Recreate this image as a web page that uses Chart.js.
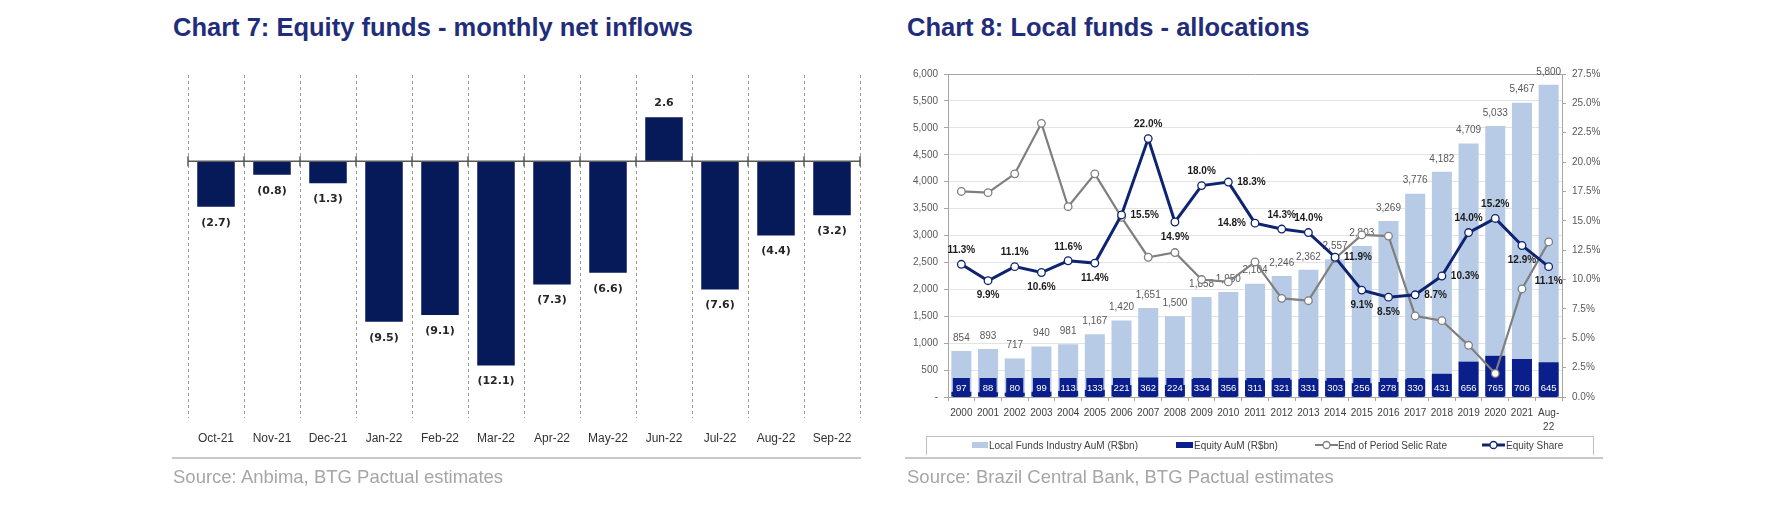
<!DOCTYPE html>
<html>
<head>
<meta charset="utf-8">
<script src="https://cdn.jsdelivr.net/npm/chart.js@4.4.0/dist/chart.umd.min.js"></script>
<style>
  body { margin: 0; width: 1766px; height: 530px; background: #fff; position: relative; overflow: hidden;
         font-family: "Liberation Sans", Arial, sans-serif; }
  .title { position: absolute; top: 12px; font-size: 25.5px; line-height: 30px; font-weight: bold; color: #1f2d7b; white-space: nowrap; }
  .source { position: absolute; top: 466px; font-size: 18.5px; line-height: 22px; color: #a6a6a6; white-space: nowrap; }
  .rule { position: absolute; top: 457px; height: 2px; background: #c8c8c8; }
  canvas { position: absolute; }
  #legend8 { position: absolute; left: 926px; top: 436px; width: 666px; height: 18px; border: 1px solid #bfbfbf; border-bottom: none; }
  .lg { position: absolute; top: 445px; transform: translateY(-50%); font-size: 10px; color: #404040; white-space: nowrap; }
  .sw { position: absolute; top: 442px; height: 6px; }
</style>
</head>
<body>
<div class="title" style="left:173px">Chart 7: Equity funds - monthly net inflows</div>
<div class="title" style="left:907px">Chart 8: Local funds - allocations</div>

<canvas id="chart7" width="730" height="420" style="left:150px;top:50px"></canvas>
<canvas id="chart8" width="886" height="420" style="left:880px;top:50px"></canvas>

<div id="legend8"></div>
<div class="sw" style="left:972px;width:16px;background:#b7cbe6"></div>
<div class="lg" style="left:989px">Local Funds Industry AuM (R$bn)</div>
<div class="sw" style="left:1176px;width:17px;background:#0b1f8c"></div>
<div class="lg" style="left:1194px">Equity AuM (R$bn)</div>
<svg style="position:absolute;left:1315px;top:440px" width="23" height="10">
  <line x1="0" y1="5" x2="23" y2="5" stroke="#7f7f7f" stroke-width="2"/>
  <circle cx="11.5" cy="5" r="3.5" fill="#fff" stroke="#7f7f7f" stroke-width="1.3"/>
</svg>
<div class="lg" style="left:1338px">End of Period Selic Rate</div>
<svg style="position:absolute;left:1482px;top:440px" width="23" height="10">
  <line x1="0" y1="5" x2="23" y2="5" stroke="#0e2470" stroke-width="3"/>
  <circle cx="11.5" cy="5" r="3.5" fill="#fff" stroke="#0e2470" stroke-width="1.3"/>
</svg>
<div class="lg" style="left:1506px">Equity Share</div>

<div class="rule" style="left:172px;width:689px"></div>
<div class="rule" style="left:905px;width:698px"></div>
<div class="source" style="left:173px">Source: Anbima, BTG Pactual estimates</div>
<div class="source" style="left:907px">Source: Brazil Central Bank, BTG Pactual estimates</div>

<script>
const FONT = '"Liberation Sans", Arial, sans-serif';

// Chart 7 data
const months = ['Oct-21', 'Nov-21', 'Dec-21', 'Jan-22', 'Feb-22', 'Mar-22',
                'Apr-22', 'May-22', 'Jun-22', 'Jul-22', 'Aug-22', 'Sep-22'];
const netInflows = [-2.7, -0.8, -1.3, -9.5, -9.1, -12.1, -7.3, -6.6, 2.6, -7.6, -4.4, -3.2];

// Chart 8 data
const years = ['2000', '2001', '2002', '2003', '2004', '2005', '2006', '2007', '2008', '2009', '2010',
               '2011', '2012', '2013', '2014', '2015', '2016', '2017', '2018', '2019', '2020', '2021', ['Aug-', '22']];
const localAum = [854, 893, 717, 940, 981, 1167, 1420, 1651, 1500, 1858, 1950, 2104,
                  2246, 2362, 2557, 2803, 3269, 3776, 4182, 4709, 5033, 5467, 5800];
const equityAum = [97, 88, 80, 99, 113, 133, 221, 362, 224, 334, 356, 311,
                   321, 331, 303, 256, 278, 330, 431, 656, 765, 706, 645];
const selicRate = [17.5, 17.4, 19.0, 23.3, 16.2, 19.0, 15.3, 11.9, 12.3, 10.0, 9.8, 11.5,
                   8.4, 8.2, 11.8, 13.8, 13.7, 6.9, 6.5, 4.4, 2.0, 9.2, 13.2];
const equityShare = [11.3, 9.9, 11.1, 10.6, 11.6, 11.4, 15.5, 22.0, 14.9, 18.0, 18.3, 14.8,
                     14.3, 14.0, 11.9, 9.1, 8.5, 8.7, 10.3, 14.0, 15.2, 12.9, 11.1];

// where each equity share label sits relative to its point
const shareLabelPos = ['above', 'below', 'above', 'below', 'above', 'below', 'right', 'above', 'below',
                       'above', 'right', 'left', 'above', 'above', 'right', 'below', 'below', 'right',
                       'right', 'above', 'above', 'below', 'below'];

// Zero line with ticks and value labels for chart 7
const chart7Extras = {
    id: 'chart7Extras',
    afterDatasetsDraw(chart) {
        const { ctx, chartArea, scales } = chart;
        const y0 = scales.y.getPixelForValue(0);
        const n = months.length;
        const step = (chartArea.right - chartArea.left) / n;
        ctx.save();
        ctx.strokeStyle = '#595959';
        ctx.lineWidth = 1.5;
        ctx.beginPath();
        ctx.moveTo(chartArea.left, y0);
        ctx.lineTo(chartArea.right, y0);
        for (let i = 0; i <= n; i++) {
            const x = chartArea.left + i * step;
            ctx.moveTo(x, y0 - 5);
            ctx.lineTo(x, y0 + 5);
        }
        ctx.stroke();

        ctx.font = 'bold 11px "DejaVu Sans", sans-serif';
        ctx.fillStyle = '#262626';
        ctx.textAlign = 'center';
        ctx.textBaseline = 'middle';
        chart.getDatasetMeta(0).data.forEach((bar, i) => {
            const v = netInflows[i];
            const text = v < 0 ? '(' + Math.abs(v).toFixed(1) + ')' : v.toFixed(1);
            const y = v < 0 ? bar.y + 16 : bar.y - 14;
            ctx.fillText(text, bar.x, y);
        });
        ctx.restore();
    }
};

new Chart(document.getElementById('chart7').getContext('2d'), {
    type: 'bar',
    data: {
        labels: months,
        datasets: [{
            data: netInflows,
            backgroundColor: '#061a5a',
            categoryPercentage: 1,
            barPercentage: 0.67
        }]
    },
    options: {
        responsive: false,
        animation: false,
        layout: { padding: { left: 38, right: 20, top: 25, bottom: 22 } },
        plugins: { legend: { display: false }, tooltip: { enabled: false } },
        scales: {
            x: {
                grid: { color: '#9a9a9a', drawTicks: false, offset: true },
                border: { display: false, dash: [3, 3] },
                ticks: { color: '#333', font: { family: FONT, size: 12 }, padding: 13, maxRotation: 0, autoSkip: false },
                afterFit(scale) { scale.height = 30; }
            },
            y: {
                display: false,
                min: -15.2,
                max: 5.1
            }
        }
    },
    plugins: [chart7Extras]
});

// Value labels for chart 8, drawn right after each dataset so lines stay on top
const chart8Labels = {
    id: 'chart8Labels',
    afterDatasetDraw(chart, args) {
        const ctx = chart.ctx;
        const meta = args.meta;
        const label = chart.data.datasets[args.index].label;
        ctx.save();
        ctx.textBaseline = 'middle';
        if (label === 'Local Funds Industry AuM (R$bn)') {
            ctx.font = '10px ' + FONT;
            ctx.fillStyle = '#595959';
            ctx.textAlign = 'center';
            meta.data.forEach((bar, i) => {
                ctx.fillText(localAum[i].toLocaleString('en-US'), bar.x, bar.y - 13);
            });
        } else if (label === 'Equity AuM (R$bn)') {
            const bottom = chart.chartArea.bottom;
            ctx.font = '9.5px ' + FONT;
            ctx.textAlign = 'center';
            meta.data.forEach((bar, i) => {
                const w = bar.width - 3;
                ctx.fillStyle = '#0b1f8c';
                ctx.fillRect(bar.x - w / 2, bottom - 19, w, 19);
                ctx.fillStyle = '#ffffff';
                ctx.fillText(String(equityAum[i]), bar.x, bottom - 9);
            });
        } else if (label === 'Equity Share') {
            ctx.font = 'bold 10px ' + FONT;
            ctx.fillStyle = '#1a1a1a';
            meta.data.forEach((pt, i) => {
                const text = equityShare[i].toFixed(1) + '%';
                const pos = shareLabelPos[i];
                if (pos === 'above') {
                    ctx.textAlign = 'center';
                    ctx.fillText(text, pt.x, pt.y - 14);
                } else if (pos === 'below') {
                    ctx.textAlign = 'center';
                    ctx.fillText(text, pt.x, pt.y + 15);
                } else if (pos === 'right') {
                    ctx.textAlign = 'left';
                    ctx.fillText(text, pt.x + 9, pt.y);
                } else {
                    ctx.textAlign = 'right';
                    ctx.fillText(text, pt.x - 9, pt.y);
                }
            });
        }
        ctx.restore();
    }
};

new Chart(document.getElementById('chart8').getContext('2d'), {
    type: 'bar',
    data: {
        labels: years,
        datasets: [
            {
                type: 'line',
                label: 'Equity Share',
                data: equityShare,
                yAxisID: 'y1',
                order: 0,
                borderColor: '#0e2470',
                borderWidth: 3,
                pointRadius: 3.8,
                pointBackgroundColor: '#ffffff',
                pointBorderColor: '#0e2470',
                pointBorderWidth: 1.3,
                tension: 0
            },
            {
                type: 'line',
                label: 'End of Period Selic Rate',
                data: selicRate,
                yAxisID: 'y1',
                order: 1,
                borderColor: '#7f7f7f',
                borderWidth: 2.2,
                pointRadius: 3.8,
                pointBackgroundColor: '#ffffff',
                pointBorderColor: '#7f7f7f',
                pointBorderWidth: 1.3,
                tension: 0
            },
            {
                label: 'Equity AuM (R$bn)',
                data: equityAum,
                yAxisID: 'y',
                order: 2,
                backgroundColor: '#0b1f8c',
                categoryPercentage: 1,
                barPercentage: 0.75
            },
            {
                label: 'Local Funds Industry AuM (R$bn)',
                data: localAum,
                yAxisID: 'y',
                order: 3,
                backgroundColor: '#b7cbe6',
                categoryPercentage: 1,
                barPercentage: 0.75
            }
        ]
    },
    options: {
        responsive: false,
        animation: false,
        layout: { padding: { left: 0, right: 154, top: 24, bottom: 33 } },
        plugins: { legend: { display: false }, tooltip: { enabled: false } },
        scales: {
            x: {
                stacked: true,
                grid: { offset: true, drawOnChartArea: false, tickLength: 4, tickColor: '#a6a6a6' },
                border: { color: '#a6a6a6' },
                ticks: { color: '#404040', font: { family: FONT, size: 10, lineHeight: 1.4 }, padding: 5,
                         maxRotation: 0, autoSkip: false },
                afterFit(scale) { scale.height = 40; }
            },
            y: {
                position: 'left',
                stacked: false,
                min: 0,
                max: 6000,
                ticks: {
                    stepSize: 500,
                    color: '#595959',
                    font: { family: FONT, size: 10 },
                    padding: 6,
                    callback: v => v === 0 ? '-' : v.toLocaleString('en-US')
                },
                grid: {
                    color: ctx => ctx.tick && ctx.tick.value === 6000 ? '#a6a6a6' : '#e3e3e3',
                    tickLength: 4,
                    tickColor: '#a6a6a6'
                },
                border: { color: '#a6a6a6' },
                afterFit(scale) { scale.width = 68; }
            },
            y1: {
                position: 'right',
                min: 0,
                max: 27.5,
                ticks: {
                    stepSize: 2.5,
                    color: '#595959',
                    font: { family: FONT, size: 10 },
                    padding: 6,
                    callback: v => v.toFixed(1) + '%'
                },
                grid: { drawOnChartArea: false, tickLength: 4, tickColor: '#a6a6a6' },
                border: { color: '#a6a6a6' },
                afterFit(scale) { scale.width = 50; }
            }
        }
    },
    plugins: [chart8Labels]
});
</script>
</body>
</html>
